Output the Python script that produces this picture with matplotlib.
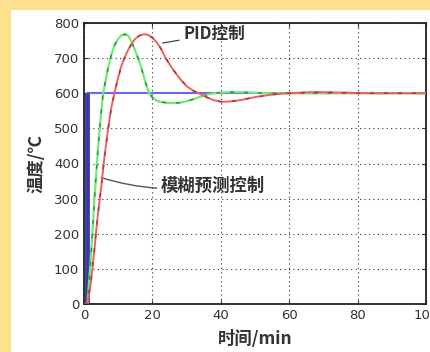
import numpy as np
import matplotlib.pyplot as plt
from matplotlib.patches import Rectangle

plt.rcParams['font.family'] = ['Noto Sans CJK SC', 'DejaVu Sans']

# setpoint (blue step)
t_set = [0, 1, 1, 100]
y_set = [0, 0, 600, 600]

# fuzzy predictive control (green)
t_fz = [0, 1, 2, 3, 4, 5, 5.6, 6, 7, 8, 9, 10, 11, 12, 13, 14, 15, 16, 17, 18, 19,
        20, 21, 22, 24, 26, 28, 30, 32, 34, 36, 38, 40, 42, 45, 48, 52, 56, 100]
y_fz = [0, 0, 130, 290, 430, 545, 600, 620, 670, 710, 738, 755, 765, 768, 763, 745,
        720, 695, 665, 630, 602, 588, 580, 576, 573, 572, 573, 577, 583, 590, 596,
        600, 602, 603, 603, 602, 600.5, 600, 600]

# PID control (red)
t_pid = [0, 1, 2, 3, 4, 5, 6, 7, 8, 9, 10, 11, 12, 13, 14, 15, 16, 17, 18, 19, 20,
         21, 22, 23, 24, 26, 28, 30, 32, 34, 36, 38, 40, 42, 44, 46, 48, 50, 54, 58,
         62, 66, 70, 75, 80, 85, 100]
y_pid = [0, 0, 60, 150, 250, 330, 420, 495, 560, 605, 645, 680, 705, 725, 742, 755,
         763, 767, 768, 765, 758, 748, 735, 718, 698, 668, 642, 620, 607, 598, 588,
         580, 576, 576, 578, 581, 585, 589, 595, 599, 601, 603, 603, 602, 600.5, 600, 600]

xticks = [0, 20, 40, 60, 80, 100]
yticks = [0, 100, 200, 300, 400, 500, 600, 700, 800]

fig = plt.figure(figsize=(4.3, 3.52), dpi=100)
fig.patch.set_facecolor('#ffe08c')
fig.patches.append(Rectangle((11 / 430, 0), 1, 1 - 10 / 352, transform=fig.transFigure,
                             facecolor='white', edgecolor='none', zorder=-5))

ax = fig.add_axes([84 / 430, 1 - 304 / 352, 342 / 430, 281 / 352])
ax.set_zorder(1)

ax.plot(t_set, y_set, color='#6868f0', lw=1.5, zorder=2)
ax.plot(t_set[1:3], y_set[1:3], color='#3a3aa8', lw=3.5, zorder=2,
        solid_capstyle='butt')

ax.plot(t_fz, y_fz, color='#70ea70', lw=1.6, zorder=3)
ax.plot(t_fz, y_fz, color='#2f8a4a', lw=1.0, ls=(0, (3, 7)), zorder=3)

ax.plot(t_pid, y_pid, color='#f06060', lw=1.4, zorder=4)
ax.plot(t_pid, y_pid, color='#a03838', lw=1.0, ls=(0, (3, 7)), zorder=4)

ax.annotate('PID控制', xy=(23, 743), xytext=(29, 768), fontsize=12,
            va='center', ha='left', color='#333333', fontweight='bold',
            arrowprops=dict(arrowstyle='-', color='#444444', lw=0.9,
                            shrinkA=1, shrinkB=0))
ax.annotate('模糊预测控制', xy=(5, 360), xytext=(22.5, 338), fontsize=12.5,
            va='center', ha='left', color='#333333', fontweight='bold',
            arrowprops=dict(arrowstyle='-', color='#555555', lw=1.0,
                            connectionstyle='arc3,rad=-0.12',
                            shrinkA=1, shrinkB=0))

ax.set_xlim(0, 100)
ax.set_ylim(0, 800)
ax.set_xticks(xticks)
ax.set_yticks(yticks)
ax.tick_params(direction='in', top=True, right=True, labelsize=9.5, length=3,
               colors='#333333')
for lbl in ax.get_xticklabels() + ax.get_yticklabels():
    lbl.set_family('DejaVu Sans')
ax.grid(True, color='#333333', ls=(0, (1, 3)), lw=0.8)
for s in ax.spines.values():
    s.set_linewidth(1.3)
    s.set_color('#222222')

ax.set_xlabel('时间/min', fontsize=12.5, color='#333333', labelpad=6,
              fontweight='bold')
ax.set_ylabel('温度/℃', fontsize=12.5, color='#333333', labelpad=6,
              fontweight='bold')

fig.savefig('out.png', dpi=100, facecolor=fig.get_facecolor())
